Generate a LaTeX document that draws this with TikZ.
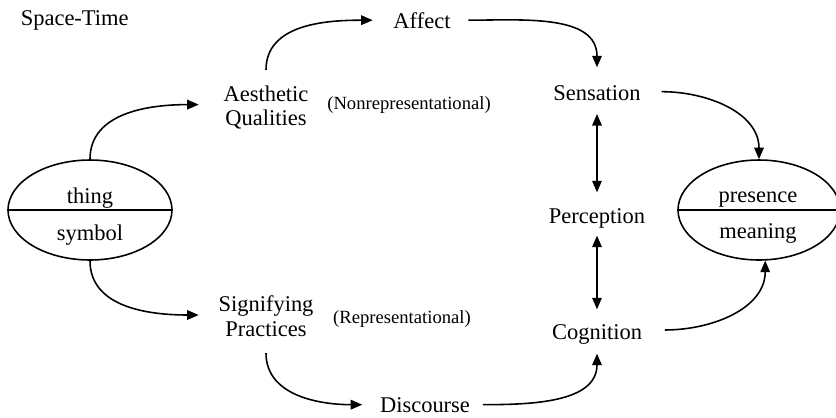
\documentclass[tikz,border=0pt]{standalone}
\usepackage{fontspec}
\setmainfont{Liberation Serif}
\usetikzlibrary{arrows.meta, positioning, calc, shapes.geometric}

\begin{document}
\begin{tikzpicture}[
            x=0.02cm, y=0.02cm,
            >={Triangle[length=2.3mm, width=1.9mm]}, line width=0.9pt,
            % ---- styles ----
            lbl/.style = {inner sep=0pt, font=\fontsize{12.8}{14}\selectfont},
            twoline/.style = {lbl, align=center},
            note/.style = {inner sep=0pt, font=\fontsize{10.6}{12}\selectfont},
            obj/.style = {draw, ellipse, minimum height=2cm, inner sep=0pt}
        ]
        \useasboundingbox (0,0) rectangle (836,-417);
        \clip (0,0) rectangle (836,-417);

        % ===================== ellipses =====================
        \node[obj, minimum width=3.28cm] (lel) at (90,-210) {};
        \draw (lel.west) -- (lel.east);
        \node[lbl, anchor=base] (thing) at (90,-203) {thing};
        \node[lbl, anchor=base] (symb) at (90,-240) {symbol};

        \node[obj, minimum width=3.24cm] (rel) at (759,-210) {};
        \draw (rel.west) -- (rel.east);
        \node[lbl, anchor=base] (pres) at (758,-202) {presence};
        \node[lbl, anchor=base] (mean) at (758,-238) {meaning};

        % ===================== labels =====================
        \node[lbl, anchor=base west] (spt) at (20,-25) {Space-Time};
        \node[twoline] (aes) at (266,-107.6) {Aesthetic\\Qualities};
        \node[twoline] (sig) at (266,-316) {Signifying\\Practices};
        \node[note] (nonrep) at (409,-105) {(Nonrepresentational)};
        \node[note] (rep) at (402,-319) {(Representational)};
        \node[lbl, anchor=base] (aff) at (422,-28) {Affect};
        \node[lbl, anchor=base] (disc) at (425,-412) {Discourse};
        \node[lbl, anchor=base] (sens) at (597,-100) {Sensation};
        \node[lbl, anchor=base] (perc) at (597,-223) {Perception};
        \node[lbl, anchor=base] (cog) at (597,-339) {Cognition};

        % ---- connectors ----
        \draw[->] (lel.north) to[out=90, in=180] ($(aes.west)+(-24,3)$);
        \draw[->] (lel.south) to[out=-90, in=180] ($(sig.west)+(-19,1)$);
        \draw[->] ($(aes.north)+(0,15)$) to[out=90, in=180] ($(aff.west)+(-20,0)$);
        \draw[->] ($(aff.east)+(17,0)$) to[out=0, in=90] ($(sens.north)+(0,17)$);
        \draw[->] ($(sig.south)+(0,-16)$) to[out=-90, in=180] ($(disc.west)+(-17,0)$);
        \draw[->] ($(disc.east)+(12,0)$) to[out=0, in=-90] ($(cog.south)+(0,-9)$);
        \draw[->] ($(sens.east)+(20,1)$) to[out=0, in=90] (rel.north);
        \draw[->] ($(cog.east)+(22,4)$) to[out=0, in=-90] (rel.-83);
        % double arrows in the middle column
        \draw[<->] ($(sens.south)+(0,-13)$) -- ($(perc.north)+(0,15)$);
        \draw[<->] ($(perc.south)+(0,-7)$) -- ($(cog.north)+(0,14)$);

\end{tikzpicture}
\end{document}
